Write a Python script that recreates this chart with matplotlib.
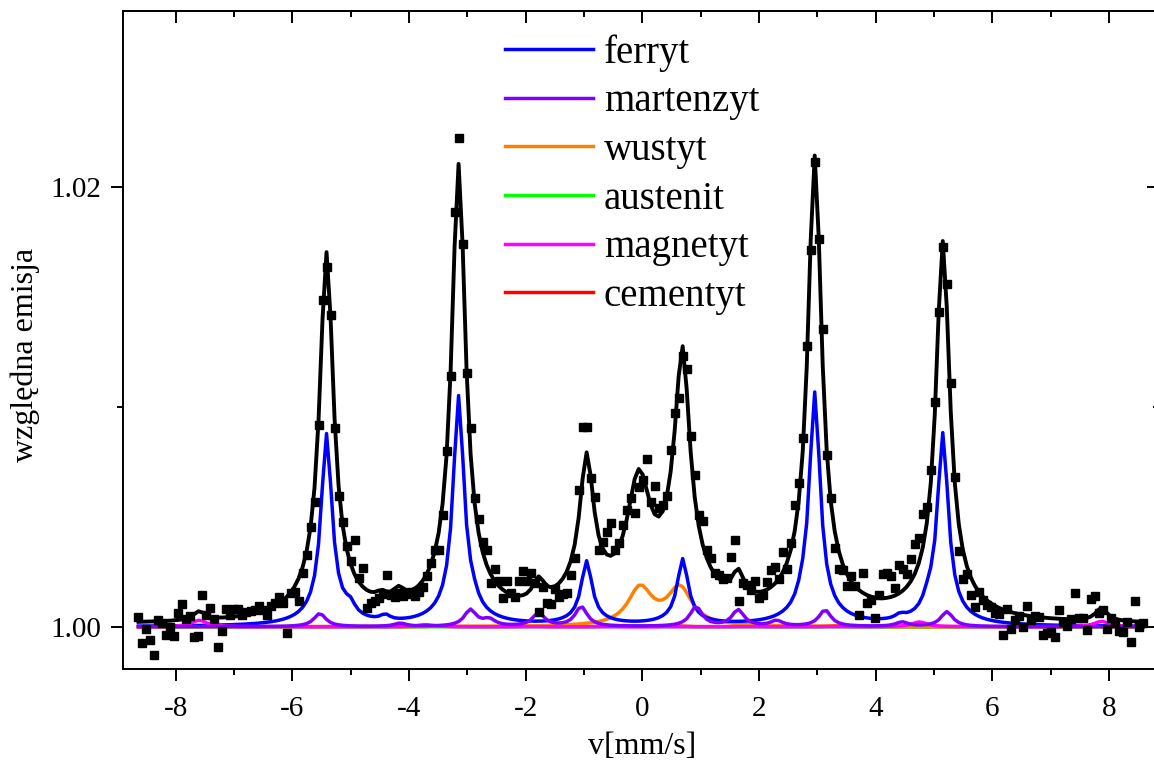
import numpy as np
import matplotlib.pyplot as plt
from matplotlib.ticker import MultipleLocator, FormatStrFormatter

plt.rcParams["font.family"] = ["Liberation Serif", "DejaVu Serif"]
plt.rcParams["axes.unicode_minus"] = False

# kanaly predkosci [mm/s]
velocity = np.linspace(-8.64, 8.58, 252)

# punkty pomiarowe: (emisja - 1) * 1000
measured = [
    0.45, -0.75, -0.12, -0.58, -1.30, 0.32, 0.15, -0.38, -0.03, -0.43,
    0.64, 1.05, 0.34, 0.49, -0.46, -0.42, 1.44, 0.55, 0.86, 0.35,
    -0.92, -0.19, 0.79, 0.55, 0.79, 0.79, 0.55, 0.65, 0.72, 0.78,
    0.93, 0.75, 0.55, 0.95, 1.10, 1.34, 1.06, -0.27, 1.52, 1.58,
    1.18, 2.46, 3.26, 4.53, 5.68, 9.15, 14.87, 16.36, 14.18, 9.03,
    5.94, 4.77, 3.69, 2.97, 3.94, 2.22, 2.67, 0.86, 1.10, 1.18,
    1.30, 1.50, 2.35, 1.45, 1.35, 1.55, 1.42, 1.50, 1.58, 1.42,
    1.58, 1.82, 2.30, 2.90, 3.50, 3.50, 5.09, 8.00, 11.40, 18.85,
    22.20, 17.40, 11.55, 9.02, 5.84, 4.88, 3.86, 3.49, 2.00, 2.61,
    2.09, 1.29, 2.09, 1.52, 1.36, 2.09, 2.55, 2.09, 2.45, 2.00,
    0.68, 1.82, 1.09, 1.03, 1.70, 1.36, 1.49, 1.55, 2.35, 3.11,
    6.21, 9.09, 9.09, 6.75, 5.91, 3.49, 3.86, 4.32, 4.70, 3.49,
    3.79, 4.62, 5.30, 5.84, 5.15, 6.36, 6.67, 7.61, 5.68, 6.39,
    5.38, 5.53, 5.94, 8.03, 9.70, 10.38, 12.30, 11.70, 8.67, 6.90,
    5.08, 4.82, 3.49, 3.11, 2.43, 2.35, 2.15, 2.20, 3.18, 3.94,
    1.18, 1.97, 1.90, 1.67, 2.09, 1.29, 1.44, 2.05, 2.58, 2.73,
    2.15, 3.41, 2.61, 3.79, 5.55, 6.52, 8.56, 12.78, 17.13, 21.12,
    17.64, 13.52, 7.83, 5.86, 3.60, 2.61, 2.58, 1.87, 2.30, 1.84,
    0.53, 2.45, 1.07, 1.22, 0.38, 1.45, 2.38, 2.45, 2.33, 1.76,
    2.79, 2.64, 2.38, 3.07, 3.76, 4.02, 5.14, 5.45, 7.14, 10.21,
    14.32, 17.28, 15.59, 11.09, 6.79, 3.45, 2.15, 2.38, 1.44, 0.91,
    1.59, 1.21, 1.00, 0.91, 0.61, 0.60, -0.38, 0.83, -0.08, 0.30,
    0.50, 0.00, 0.94, 0.33, 0.49, 0.45, -0.38, -0.30, -0.23, -0.48,
    0.76, 0.23, 0.03, 0.35, 1.55, 0.38, 0.38, -0.15, 1.24, 1.40,
    0.61, 0.76, -0.08, 0.38, 0.15, -0.18, -0.23, 0.23, -0.68, 1.18,
    -0.03, 0.15,
]

# linie Lorentza: polozenie [mm/s], wysokosc [1e-3], szerokosc FWHM [mm/s]
sextet_pos = [-5.415, -3.151, -0.956, 0.691, 2.955, 5.151]

fit_pos = sextet_pos + sextet_pos + [-0.064, 0.64] + [-7.60, -4.47, -4.18, -1.78, 1.64, 7.87]
fit_h = [15.3, 19.0, 5.7, 7.7, 19.35, 15.8] + [1.4, 1.6, 1.2, 1.6, 1.6, 1.4] + [5.4, 2.5] \
    + [0.4, 0.35, 0.55, 1.0, 1.2, 0.6]
fit_w = [0.28] * 6 + [1.0] * 6 + [0.5] * 2 + [0.25] * 6
fit_offset = 0.1

ferryt_pos = sextet_pos + sextet_pos + [-5.01, -4.41, -2.90, 2.74, 4.42, 4.90]
ferryt_h = [8.1, 9.7, 2.65, 2.75, 9.85, 8.1] + [0.6, 0.7, 0.25, 0.25, 0.7, 0.6] \
    + [0.45, 0.25, 0.30, 0.30, 0.20, 0.45]
ferryt_w = [0.22] * 6 + [0.8] * 6 + [0.2] * 6

martenzyt_pos = [-5.53, -4.15, -2.95, -2.63, -1.78, -1.05, 0.92, 1.64, 2.30, 3.13, 4.45, 5.22]
martenzyt_h = [0.60, 0.15, 0.75, 0.30, 0.60, 0.90, 0.90, 0.75, 0.25, 0.75, 0.20, 0.68]
martenzyt_w = [0.25] * 12

wustyt_pos = [-0.04, 0.64]
wustyt_h = [1.71, 1.71]
wustyt_w = [0.5, 0.5]

austenit_pos = [-0.09]
austenit_h = [0.05]
austenit_w = [0.4]

magnetyt_pos = [-7.60, -3.72, 4.75, 7.87]
magnetyt_h = [0.30, 0.10, 0.22, 0.25]
magnetyt_w = [0.3] * 4

cementyt_pos = [-3.5, -1.9, -0.6, 0.55, 1.8, 3.3]
cementyt_h = [0.04] * 6
cementyt_w = [0.3] * 6


def lorentz(x, pos, h, w, offset=0.0):
    y = np.full_like(x, offset)
    for p, a, g in zip(pos, h, w):
        y += a / (1.0 + ((x - p) / (g / 2.0)) ** 2)
    return 1.0 + y / 1000.0


fig = plt.figure(figsize=(11.54, 7.6), dpi=100)
ax = fig.add_axes([123 / 1154, 91 / 760, (1158.6 - 123) / 1154, 658 / 760])

x = velocity
lw = 2.5
l_cem, = ax.plot(x, lorentz(x, cementyt_pos, cementyt_h, cementyt_w), color="#ff0000", lw=lw, label="cementyt")
l_aus, = ax.plot(x, lorentz(x, austenit_pos, austenit_h, austenit_w), color="#00ff00", lw=lw, label="austenit")
l_wus, = ax.plot(x, lorentz(x, wustyt_pos, wustyt_h, wustyt_w), color="#ff8000", lw=lw, label="wustyt")
l_fer, = ax.plot(x, lorentz(x, ferryt_pos, ferryt_h, ferryt_w), color="#0000ff", lw=lw, label="ferryt")
l_mag, = ax.plot(x, lorentz(x, magnetyt_pos, magnetyt_h, magnetyt_w), color="#ff00ff", lw=lw, label="magnetyt")
l_mar, = ax.plot(x, lorentz(x, martenzyt_pos, martenzyt_h, martenzyt_w), color="#8000ff", lw=lw, label="martenzyt")

ax.plot(x, lorentz(x, fit_pos, fit_h, fit_w, fit_offset), color="black", lw=2.8, zorder=4)
ax.plot(x, 1.0 + np.array(measured) / 1000.0, "s", color="black", ms=6, zorder=5)

ax.set_xlim(-8.905, 8.85)
ax.set_ylim(0.99808, 1.02799)

ax.xaxis.set_major_locator(MultipleLocator(2))
ax.xaxis.set_minor_locator(MultipleLocator(1))
ax.yaxis.set_major_locator(MultipleLocator(0.02))
ax.yaxis.set_minor_locator(MultipleLocator(0.01))
ax.yaxis.set_major_formatter(FormatStrFormatter("%.2f"))
ax.tick_params(which="both", direction="out", width=1.4, labelsize=21, top=False, right=False)
ax.tick_params(which="major", length=8.6, pad=7)
ax.tick_params(axis="x", which="major", pad=10.5)
ax.tick_params(which="minor", length=4.3)
for s in ax.spines.values():
    s.set_linewidth(1.4)

top = ax.secondary_xaxis("top")
top.xaxis.set_major_locator(MultipleLocator(2))
top.xaxis.set_minor_locator(MultipleLocator(1))
top.tick_params(which="both", direction="in", width=1.4, labeltop=False)
top.tick_params(which="major", length=8.6)
top.tick_params(which="minor", length=4.3)
top.spines["top"].set_linewidth(1.4)

right = ax.secondary_yaxis("right")
right.yaxis.set_major_locator(MultipleLocator(0.02))
right.yaxis.set_minor_locator(MultipleLocator(0.01))
right.tick_params(which="both", direction="in", width=1.4, labelright=False)
right.tick_params(which="major", length=8.6)
right.tick_params(which="minor", length=4.3)

fig.text(25 / 1154, 1 - 355 / 760, "względna emisja", rotation=90, fontsize=23, ha="center", va="center")
fig.text(642 / 1154, 1 - 746 / 760, "v[mm/s]", fontsize=23, ha="center", va="center")

ax.legend(handles=[l_fer, l_mar, l_wus, l_aus, l_mag, l_cem], frameon=False, fontsize=28,
          loc="upper left", bbox_to_anchor=(505 / 1154, 1 - 34 / 760), bbox_transform=fig.transFigure,
          borderpad=0, borderaxespad=0, handlelength=2.26, handletextpad=0.28, labelspacing=0.3)

fig.savefig("out.png", dpi=100)
